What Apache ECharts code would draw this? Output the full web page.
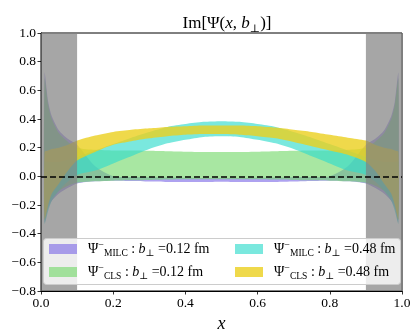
<!DOCTYPE html>
<html><head><meta charset="utf-8">
<script src="https://cdn.jsdelivr.net/npm/echarts@6/dist/echarts.min.js"></script>
<style>html,body{margin:0;padding:0;background:#fff}#c{width:415px;height:332px}</style>
</head><body><div id="c"></div>
<script>
// ---- data ----
const X = [0.01,0.02,0.03,0.05,0.075,0.1,0.15,0.2,0.25,0.3,0.35,0.4,0.45,0.5,0.55,0.6,0.65,0.7,0.75,0.8,0.85,0.9,0.925,0.95,0.97,0.98,0.99];

const MILC_012_HI = [0.72,0.52,0.42,0.32,0.26,0.22,0.07,0.0,-0.005,-0.006,-0.008,-0.01,-0.012,-0.012,-0.012,-0.01,-0.008,-0.006,-0.005,0.0,0.07,0.22,0.26,0.32,0.42,0.52,0.72];
const MILC_012_LO = [-0.32,-0.22,-0.17,-0.12,-0.08,-0.05,-0.035,-0.03,-0.032,-0.036,-0.039,-0.04,-0.04,-0.038,-0.04,-0.04,-0.039,-0.036,-0.032,-0.03,-0.035,-0.05,-0.08,-0.12,-0.17,-0.22,-0.32];

const CLS_012_HI = [0.68,0.5,0.4,0.3,0.24,0.2,0.185,0.18,0.18,0.178,0.175,0.172,0.17,0.17,0.17,0.172,0.175,0.178,0.18,0.18,0.185,0.2,0.24,0.3,0.4,0.5,0.68];
const CLS_012_LO = [-0.3,-0.2,-0.15,-0.1,-0.065,-0.045,-0.035,-0.03,-0.028,-0.025,-0.022,-0.02,-0.02,-0.02,-0.02,-0.02,-0.022,-0.025,-0.028,-0.03,-0.035,-0.045,-0.065,-0.1,-0.15,-0.2,-0.3];

const MILC_048_HI = [0.1,0.1,0.1,0.1,0.115,0.135,0.18,0.225,0.27,0.31,0.345,0.365,0.38,0.385,0.38,0.365,0.345,0.31,0.27,0.225,0.18,0.135,0.115,0.1,0.1,0.1,0.1];
const MILC_048_LO = [-0.33,-0.24,-0.17,-0.1,-0.035,0.01,0.04,0.09,0.14,0.19,0.23,0.255,0.275,0.28,0.275,0.255,0.23,0.19,0.14,0.09,0.04,0.01,-0.035,-0.1,-0.17,-0.24,-0.33];

const CLS_048_HI = [0.17,0.18,0.19,0.2,0.22,0.25,0.285,0.31,0.325,0.335,0.345,0.35,0.355,0.355,0.355,0.35,0.34,0.325,0.31,0.29,0.27,0.25,0.22,0.2,0.19,0.18,0.17];
const CLS_048_LO = [-0.3,-0.2,-0.12,-0.05,0.04,0.11,0.17,0.22,0.245,0.265,0.28,0.29,0.295,0.295,0.29,0.28,0.265,0.24,0.21,0.18,0.15,0.1,0.04,-0.05,-0.12,-0.2,-0.3];

const SERIES_NAMES = ['MILC_012','CLS_012','MILC_048','CLS_048'];
const LATTICE = ['MILC','CLS','MILC','CLS'];
const B_PERP = ['0.12','0.12','0.48','0.48'];
const SHADED_X = [[0,0.1],[0.9,1.0]];
const X_TICKS = [0,0.2,0.4,0.6,0.8,1.0];
const Y_TICKS = [-0.8,-0.6,-0.4,-0.2,0,0.2,0.4,0.6,0.8,1.0];

// ---- styles ----
const COLORS = ['rgba(120,100,230,0.6)','rgba(110,215,100,0.6)','rgba(50,220,205,0.65)','rgba(235,208,30,0.8)'];
const SERIF = '"Liberation Serif","DejaVu Serif",serif';

const BANDS = [[MILC_012_LO,MILC_012_HI],[CLS_012_LO,CLS_012_HI],[MILC_048_LO,MILC_048_HI],[CLS_048_LO,CLS_048_HI]];

function bandSeries(k){
  const lo = BANDS[k][0], hi = BANDS[k][1];
  return {
    type:'custom', name: SERIES_NAMES[k], coordinateSystem:'cartesian2d',
    data: X.map((x,i)=>[x, lo[i], hi[i]]),
    encode:{x:0, y:[1,2]},
    silent:true, z: 2+k,
    itemStyle:{color: COLORS[k]},
    renderItem: function(params, api){
      if (params.dataIndexInside !== 0) return null;
      const n = X.length, pts = [];
      for (let j=0;j<n;j++) pts.push(api.coord([api.value(0,j), api.value(2,j)]));
      for (let j=n-1;j>=0;j--) pts.push(api.coord([api.value(0,j), api.value(1,j)]));
      return {type:'polygon', shape:{points: pts, smooth:0.25}, style:{fill: COLORS[k]}};
    }
  };
}

const series = [0,1,2,3].map(bandSeries);
series[3].markArea = {
  silent:true, z:10,
  itemStyle:{color:'rgba(128,128,128,0.7)'},
  data: SHADED_X.map(r=>[{xAxis:r[0]},{xAxis:r[1]}])
};
series[3].markLine = {
  silent:true, z:11, symbol:'none', label:{show:false},
  lineStyle:{color:'#000', width:1.6, type:[6,3]},
  data:[{yAxis:0}]
};

function fmtTick(v){ return (Math.round(v*10)/10).toFixed(1).replace('-','\u2212'); }

const legendRich = {
  p:{fontFamily:SERIF, fontSize:14, lineHeight:18, color:'#000', padding:[0,0,0,6]},
  m:{fontFamily:SERIF, fontSize:14, lineHeight:18, color:'#000'},
  i:{fontFamily:SERIF, fontSize:14, lineHeight:18, color:'#000', fontStyle:'italic'},
  sup:{fontFamily:SERIF, fontSize:10, lineHeight:10, color:'#000', verticalAlign:'top'},
  sub:{fontFamily:SERIF, fontSize:9.5, lineHeight:10, color:'#000', verticalAlign:'bottom'}
};
function legendText(name){
  const i = SERIES_NAMES.indexOf(name);
  return '{p|Ψ}{sup|−}{sub|'+LATTICE[i]+'}{m| : }{i|b}{sub|⊥}{m| =' + B_PERP[i] + ' fm}';
}
function mkLegend(idxs, left){
  return {
    orient:'vertical', left:left, top:240, padding:0, itemGap:5,
    itemWidth:28, itemHeight:10, icon:'rect', selectedMode:false, z:20,
    data: idxs.map(k=>({name:SERIES_NAMES[k], itemStyle:{color:COLORS[k], borderWidth:0}})),
    formatter: legendText,
    textStyle:{rich: legendRich}
  };
}

const option = {
  animation:false,
  backgroundColor:'#fff',
  title:{
    text:'{r|Im[Ψ(}{i|x}{r|, }{i|b}{s|⊥}{r|)]}',
    left:222, top:8, textAlign:'center',
    textStyle:{fontWeight:'normal', rich:{
      r:{fontFamily:SERIF, fontSize:17, color:'#000', fontWeight:'normal', lineHeight:22},
      i:{fontFamily:SERIF, fontSize:17, color:'#000', fontWeight:'normal', fontStyle:'italic', lineHeight:22},
      s:{fontFamily:SERIF, fontSize:11, color:'#000', fontWeight:'normal', lineHeight:12, verticalAlign:'bottom'}
    }}
  },
  grid:{left:41, right:13, top:33, bottom:41, show:true, borderColor:'#000', borderWidth:1, backgroundColor:'transparent', outerBoundsMode:'none', containLabel:false},
  xAxis:{
    type:'value', min:X_TICKS[0], max:X_TICKS[X_TICKS.length-1], interval:0.2,
    name:'x', nameLocation:'middle', nameGap:19,
    nameTextStyle:{fontFamily:SERIF, fontSize:18, fontStyle:'italic', color:'#000'},
    axisLine:{show:true, onZero:false, lineStyle:{color:'#000', width:1}},
    axisTick:{show:true, length:3.5, lineStyle:{color:'#000', width:0.8}},
    axisLabel:{margin:5, fontFamily:SERIF, fontSize:13.5, color:'#000', formatter:fmtTick, showMinLabel:true, showMaxLabel:true},
    splitLine:{show:false}
  },
  yAxis:{
    type:'value', min:Y_TICKS[0], max:Y_TICKS[Y_TICKS.length-1], interval:0.2,
    axisLine:{show:true, onZero:false, lineStyle:{color:'#000', width:1}},
    axisTick:{show:true, length:3.5, lineStyle:{color:'#000', width:0.8}},
    axisLabel:{margin:5, fontFamily:SERIF, fontSize:13.5, color:'#000', formatter:fmtTick, showMinLabel:true, showMaxLabel:true},
    splitLine:{show:false}
  },
  graphic:{elements:[{
    type:'rect', left:43, top:238, z:15, silent:true,
    shape:{width:357, height:46, r:3},
    style:{fill:'rgba(255,255,255,0.8)', stroke:'#cccccc', lineWidth:1}
  }]},
  legend:[mkLegend([0,1],49), mkLegend([2,3],235)],
  series: series
};
const chart = echarts.init(document.getElementById('c'), null, {renderer:'canvas'});
chart.setOption(option);
</script></body></html>
